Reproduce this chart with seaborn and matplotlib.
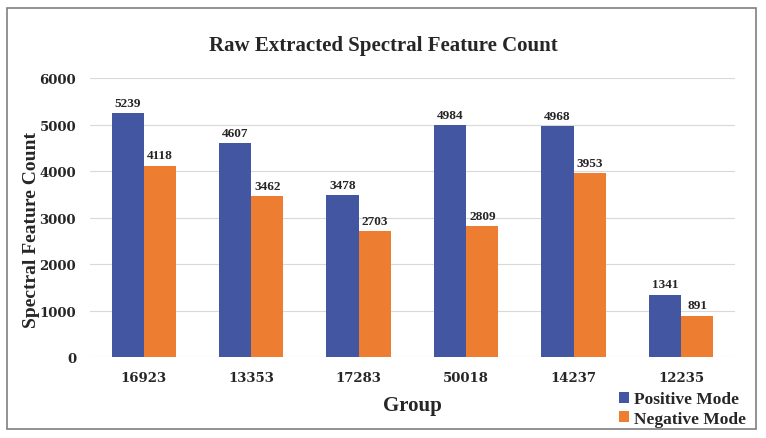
import pandas as pd
import matplotlib.pyplot as plt
import seaborn as sns
from matplotlib.patches import Rectangle

groups = ['16923', '13353', '17283', '50018', '14237', '12235']
positive = [5239, 4607, 3478, 4984, 4968, 1341]
negative = [4118, 3462, 2703, 2809, 3953, 891]
modes = ['Positive Mode', 'Negative Mode']
colors = ['#4356A2', '#ED7D31']

df = pd.DataFrame({
    'Group': groups * 2,
    'Count': positive + negative,
    'Mode': [modes[0]] * len(groups) + [modes[1]] * len(groups),
})

sns.set_style("white")
plt.rcParams['font.family'] = ['Liberation Serif', 'DejaVu Serif']

fig = plt.figure(figsize=(7.66, 4.39), dpi=100)
ax = fig.add_axes([0.1175, 0.1845, 0.842, 0.6355])

sns.barplot(data=df, x='Group', y='Count', hue='Mode', palette=colors,
            width=0.6, gap=0, ax=ax, saturation=1, linewidth=0, legend=True)

for cont in ax.containers:
    ax.bar_label(cont, padding=3, fontsize=9.5, fontweight='bold')

ax.set_ylim(0, 6000)
ax.set_xlim(-0.5, 5.5)
ax.set_yticks(range(0, 6001, 1000))
ax.yaxis.grid(True, color='#D9D9D9', linewidth=0.8)
ax.set_axisbelow(True)
for s in ax.spines.values():
    s.set_visible(False)
ax.tick_params(axis='both', length=0, pad=10)
for lbl in ax.get_xticklabels() + ax.get_yticklabels():
    lbl.set_fontweight('bold')
    lbl.set_family('DejaVu Serif')
    lbl.set_fontsize(9.5)

ax.set_xlabel('Group', fontsize=15, fontweight='bold', labelpad=8)
ax.set_ylabel('Spectral Feature Count', fontsize=14, fontweight='bold', labelpad=2)
ax.yaxis.set_label_coords(-0.078, 0.46)
fig.text(0.5, 0.895, 'Raw Extracted Spectral Feature Count', ha='center', va='center',
         fontsize=15, fontweight='bold')

ax.get_legend().remove()
fig.legend(handles=ax.containers, labels=modes, loc='lower right',
           bbox_to_anchor=(0.99, -0.002), frameon=False,
           prop={'weight': 'bold', 'size': 12.5}, handlelength=0.6, handleheight=0.6,
           handletextpad=0.3, labelspacing=0.2, borderpad=0.2)

fig.patches.append(Rectangle((0.009, 0.0205), 0.978, 0.959, transform=fig.transFigure,
                             fill=False, edgecolor='#7F7F7F', linewidth=1.2))

plt.savefig('out.png', dpi=100)
